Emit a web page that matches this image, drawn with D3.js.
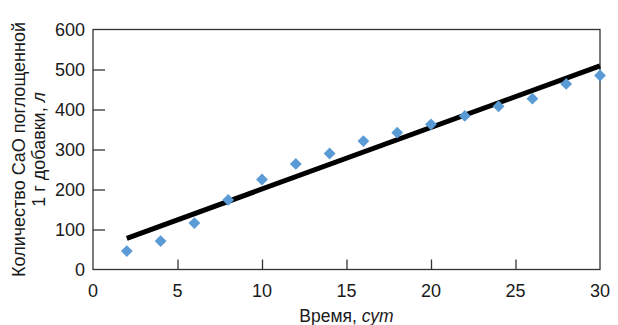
<!DOCTYPE html>
<html>
<head>
<meta charset="utf-8">
<script src="https://cdn.jsdelivr.net/npm/d3@7"></script>
<style>
  html, body { margin: 0; padding: 0; background: #fff; }
  svg { display: block; }
  text { font-family: "Liberation Sans", Arial, Helvetica, sans-serif; fill: #1a1a1a; }
</style>
</head>
<body>
<svg id="chart" width="618" height="325"></svg>
<script>
// Measured CaO uptake per gram of additive over time
const days = [2, 4, 6, 8, 10, 12, 14, 16, 18, 20, 22, 24, 26, 28, 30];
const uptake = [46, 71, 116, 174, 225, 264, 290, 321, 342, 363, 384, 408, 427, 464, 485];

// Linear trend line endpoints
const trendDays = [2, 30];
const trendUptake = [78, 509];

const xTicks = [0, 5, 10, 15, 20, 25, 30];
const yTicks = [0, 100, 200, 300, 400, 500, 600];

const svg = d3.select("#chart");
const margin = { left: 93, right: 18, top: 29.5, bottom: 55.5 };
const W = 618, H = 325;

const x = d3.scaleLinear().domain([0, 30]).range([margin.left, W - margin.right]);
const y = d3.scaleLinear().domain([0, 600]).range([H - margin.bottom, margin.top]);

const axisColor = "#333";

// Frame
svg.append("rect")
  .attr("x", x(0)).attr("y", y(600))
  .attr("width", x(30) - x(0)).attr("height", y(0) - y(600))
  .attr("fill", "none").attr("stroke", axisColor).attr("stroke-width", 1.3);

// Y axis: ticks point inward
const yAxis = svg.append("g")
  .attr("transform", `translate(${x(0)},0)`)
  .call(d3.axisRight(y).tickValues(yTicks).tickSize(12).tickFormat(""));
yAxis.select(".domain").remove();
yAxis.selectAll(".tick line").attr("stroke", axisColor).attr("stroke-width", 1.3)
  .filter(d => d === 0 || d === 600).remove();

svg.append("g").selectAll("text").data(yTicks).join("text")
  .attr("x", x(0) - 8).attr("y", d => y(d)).attr("dy", "0.35em")
  .attr("text-anchor", "end").attr("font-size", 18).text(d => d);

// X axis: ticks point inward
const xAxis = svg.append("g")
  .attr("transform", `translate(0,${y(0)})`)
  .call(d3.axisTop(x).tickValues(xTicks).tickSize(10).tickFormat(""));
xAxis.select(".domain").remove();
xAxis.selectAll(".tick line").attr("stroke", axisColor).attr("stroke-width", 1.3)
  .filter(d => d === 0 || d === 30).remove();

svg.append("g").selectAll("text").data(xTicks).join("text")
  .attr("x", d => x(d)).attr("y", y(0) + 27)
  .attr("text-anchor", "middle").attr("font-size", 18).text(d => d);

// Trend line
const line = d3.line().x(d => x(d[0])).y(d => y(d[1]));
svg.append("path")
  .datum(d3.zip(trendDays, trendUptake))
  .attr("d", line)
  .attr("fill", "none").attr("stroke", "#000").attr("stroke-width", 5);

// Data points as diamonds
const diamond = d3.symbol().type(d3.symbolSquare).size(70);
svg.append("g").selectAll("path").data(d3.zip(days, uptake)).join("path")
  .attr("d", diamond)
  .attr("transform", d => `translate(${x(d[0])},${y(d[1])}) rotate(45)`)
  .attr("fill", "#5b9bd5");

// Axis titles
const xt = svg.append("text")
  .attr("x", (x(0) + x(30)) / 2).attr("y", 322)
  .attr("text-anchor", "middle").attr("font-size", 17.5);
xt.append("tspan").text("Время, ");
xt.append("tspan").attr("font-style", "italic").text("сут");

const yc = (y(0) + y(600)) / 2;
const yt = svg.append("text")
  .attr("transform", `translate(25,${yc}) rotate(-90)`)
  .attr("text-anchor", "middle").attr("font-size", 18);
yt.append("tspan").attr("x", 0).attr("y", 0).text("Количество CaO поглощенной");
const l2 = yt.append("tspan").attr("x", 0).attr("y", 20);
l2.append("tspan").text("1 г добавки, ");
l2.append("tspan").attr("font-style", "italic").text("л");
</script>
</body>
</html>
